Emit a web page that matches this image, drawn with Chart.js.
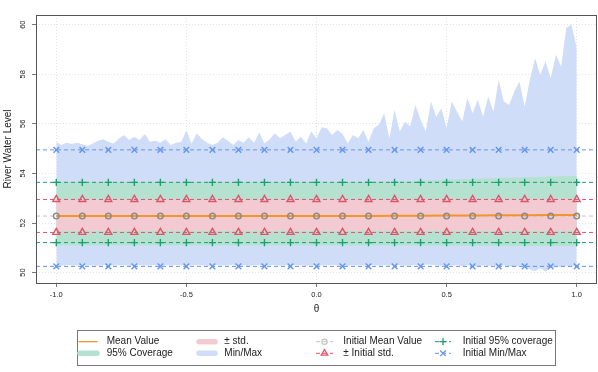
<!DOCTYPE html>
<html>
<head>
<meta charset="utf-8">
<script src="https://cdn.jsdelivr.net/npm/chart.js@4"></script>
<style>
  body { margin: 0; background: #fff; }
  #wrap { width: 598px; height: 372px; }
</style>
</head>
<body>
<div id="wrap"><canvas id="chart" width="598" height="372"></canvas></div>
<script>
// theta positions of the marked points
const thetaMarks = [-1.0, -0.9, -0.8, -0.7, -0.6, -0.5, -0.4, -0.3, -0.2, -0.1, 0.0,
  0.1, 0.2, 0.3, 0.4, 0.5, 0.6, 0.7, 0.8, 0.9, 1.0];
// fine sampling grid for the min/max envelope (step 0.02)
const thetaFine = Array.from({ length: 101 }, (_, i) => -1 + i * 0.02);

const meanValue = [52.28, 52.28, 52.28, 52.28, 52.28, 52.28, 52.28, 52.28, 52.28, 52.28, 52.28,
  52.28, 52.28, 52.29, 52.29, 52.30, 52.30, 52.31, 52.31, 52.32, 52.32];
const stdLower = [51.68, 51.68, 51.68, 51.68, 51.68, 51.68, 51.68, 51.68, 51.68, 51.68, 51.68,
  51.68, 51.68, 51.68, 51.68, 51.68, 51.68, 51.68, 51.68, 51.68, 51.68];
const stdUpper = [52.95, 52.95, 52.95, 52.95, 52.95, 52.95, 52.95, 52.95, 52.95, 52.95, 52.95,
  52.95, 52.95, 52.95, 52.96, 52.96, 52.96, 52.97, 52.97, 52.97, 52.98];
const covLower = [51.10, 51.10, 51.10, 51.10, 51.10, 51.10, 51.10, 51.10, 51.10, 51.10, 51.10,
  51.10, 51.10, 51.10, 51.09, 51.09, 51.08, 51.08, 51.07, 51.07, 51.07];
const covUpper = [53.66, 53.66, 53.66, 53.66, 53.66, 53.66, 53.66, 53.66, 53.66, 53.66, 53.66,
  53.66, 53.67, 53.67, 53.70, 53.74, 53.78, 53.82, 53.85, 53.88, 53.90];
const maxEnvelope = [
  55.27, 55.15, 55.24, 55.19, 55.24, 55.18, 55.11, 55.21, 55.32, 55.38,
  55.28, 55.21, 55.40, 55.55, 55.35, 55.48, 55.35, 55.59, 55.28, 55.32,
  55.24, 55.38, 55.15, 55.24, 55.27, 55.73, 55.21, 55.62, 55.38, 55.24,
  55.15, 55.24, 55.46, 55.32, 55.15, 55.35, 55.24, 55.46, 55.24, 55.65,
  55.21, 55.38, 55.62, 55.42, 55.55, 55.69, 55.28, 55.48, 55.21, 55.69,
  55.42, 55.86, 55.82, 55.55, 55.75, 55.60, 55.21, 55.55, 55.42, 55.75,
  55.28, 55.82, 55.96, 56.43, 55.42, 56.56, 55.69, 56.09, 55.89, 56.76,
  56.16, 55.69, 56.90, 56.29, 56.63, 55.82, 56.90, 56.49, 56.09, 57.04,
  56.43, 56.97, 56.29, 57.10, 56.49, 57.78, 56.90, 56.76, 57.30, 57.70,
  56.69, 57.78, 58.65, 57.98, 58.52, 57.84, 58.79, 58.31, 59.87, 60.00,
  59.06];
const minEnvelope = [
  50.30, 50.28, 50.31, 50.29, 50.30, 50.32, 50.29, 50.30, 50.28, 50.31,
  50.30, 50.29, 50.31, 50.30, 50.28, 50.30, 50.32, 50.29, 50.30, 50.31,
  50.29, 50.30, 50.28, 50.31, 50.30, 50.29, 50.30, 50.32, 50.30, 50.28,
  50.30, 50.31, 50.29, 50.30, 50.32, 50.29, 50.30, 50.28, 50.31, 50.30,
  50.29, 50.30, 50.31, 50.28, 50.30, 50.29, 50.31, 50.30, 50.28, 50.30,
  50.31, 50.29, 50.30, 50.32, 50.29, 50.30, 50.28, 50.31, 50.30, 50.29,
  50.30, 50.31, 50.28, 50.30, 50.29, 50.31, 50.30, 50.28, 50.30, 50.31,
  50.29, 50.33, 50.32, 50.30, 50.28, 50.30, 50.29, 50.31, 50.26, 50.30,
  50.28, 50.25, 50.30, 50.27, 50.29, 50.24, 50.30, 50.26, 50.22, 50.28,
  50.25, 50.12, 50.05, 50.18, 50.03, 50.20, 50.26, 50.22, 50.28, 50.25,
  50.27];

const initialMean = 52.28;
const initialStd = [51.62, 52.95];
const initialCoverage = [51.21, 53.64];
const initialMinMax = [50.25, 54.95];

const xTicks = [-1.0, -0.5, 0.0, 0.5, 1.0];
const yTicks = [50, 52, 54, 56, 58, 60];
const xRange = [-1.078, 1.078];
const yRange = [49.58, 60.39];

const legendLabels = [
  ["Mean Value", "95% Coverage"],
  ["\u00b1 std.", "Min/Max"],
  ["Initial Mean Value", "\u00b1 Initial std."],
  ["Initial 95% coverage", "Initial Min/Max"]
];

const ORANGE = "#F0962A";
const GREY = "#8a8a8a";
const RED = "#DF536B";
const GREEN = "#1E9E6E";
const BLUE = "#6495ED";
const BAND_BLUE = "#CFDDF8";
const BAND_GREEN = "#B5E2D0";
const BAND_PINK = "#F4CAD2";
const FONT = "'Liberation Sans', Arial, sans-serif";

function pts(xs, ys) {
  return xs.map((x, i) => ({ x: x, y: ys[i] }));
}
function hline(v) {
  return [{ x: xRange[0], y: v }, { x: xRange[1], y: v }];
}
function marks(v) {
  return thetaMarks.map(x => ({ x: x, y: v }));
}
function band(data, color, order, fill) {
  return {
    data: data, borderColor: "rgba(0,0,0,0)", borderWidth: 1, pointRadius: 0,
    backgroundColor: color, fill: fill, order: order
  };
}
function dashed(v, color, order) {
  return {
    data: hline(v), borderColor: color, borderWidth: 1, borderDash: [4, 3],
    pointRadius: 0, fill: false, order: order
  };
}
function markerSet(data, style, color, radius, order) {
  return {
    data: data, showLine: false, pointStyle: style, pointRadius: radius,
    pointBorderColor: color, pointBackgroundColor: "rgba(0,0,0,0)",
    pointBorderWidth: 1.4, order: order
  };
}

const datasets = [
  band(pts(thetaFine, minEnvelope), BAND_BLUE, 30, false),
  band(pts(thetaFine, maxEnvelope), BAND_BLUE, 29, "-1"),
  band(pts(thetaMarks, covLower), BAND_GREEN, 28, false),
  band(pts(thetaMarks, covUpper), BAND_GREEN, 27, "-1"),
  band(pts(thetaMarks, stdLower), BAND_PINK, 26, false),
  band(pts(thetaMarks, stdUpper), BAND_PINK, 25, "-1"),
  dashed(initialMinMax[0], BLUE, 20),
  dashed(initialMinMax[1], BLUE, 20),
  dashed(initialCoverage[0], GREEN, 20),
  dashed(initialCoverage[1], GREEN, 20),
  dashed(initialStd[0], RED, 20),
  dashed(initialStd[1], RED, 20),
  dashed(initialMean, "#c4c4c4", 20),
  {
    data: pts(thetaMarks, meanValue), borderColor: ORANGE, borderWidth: 2,
    pointRadius: 0, fill: false, order: 10
  },
  markerSet(marks(initialMean), "circle", GREY, 2.8, 5),
  markerSet(marks(initialStd[0]).concat(marks(initialStd[1])), "triangle", RED, 4, 5),
  markerSet(marks(initialCoverage[0]).concat(marks(initialCoverage[1])), "cross", GREEN, 3.6, 5),
  markerSet(marks(initialMinMax[0]).concat(marks(initialMinMax[1])), "crossRot", BLUE, 4, 5)
];

function drawMarker(ctx, style, x, y, r, color) {
  ctx.save();
  ctx.strokeStyle = color;
  ctx.lineWidth = 1.3;
  ctx.setLineDash([]);
  ctx.beginPath();
  if (style === "circle") {
    ctx.arc(x, y, r, 0, Math.PI * 2);
  } else if (style === "triangle") {
    ctx.moveTo(x, y - r);
    ctx.lineTo(x + r * 0.866, y + r * 0.5);
    ctx.lineTo(x - r * 0.866, y + r * 0.5);
    ctx.closePath();
  } else if (style === "cross") {
    ctx.moveTo(x - r, y); ctx.lineTo(x + r, y);
    ctx.moveTo(x, y - r); ctx.lineTo(x, y + r);
  } else {
    const d = r * 0.707;
    ctx.moveTo(x - d, y - d); ctx.lineTo(x + d, y + d);
    ctx.moveTo(x - d, y + d); ctx.lineTo(x + d, y - d);
  }
  ctx.stroke();
  ctx.restore();
}

const decorations = {
  id: "decorations",
  afterDatasetsDraw(chart) {
    const ctx = chart.ctx;
    const a = chart.chartArea;
    ctx.save();
    ctx.strokeStyle = "#555";
    ctx.lineWidth = 1;
    ctx.strokeRect(a.left + 0.5, a.top + 0.5, a.right - a.left - 1, a.bottom - a.top);
    ctx.restore();
  },
  afterDraw(chart) {
    const ctx = chart.ctx;
    const a = chart.chartArea;
    const xs = chart.scales.x;
    const ys = chart.scales.y;
    ctx.save();
    ctx.fillStyle = "#222";
    ctx.font = "7.5px " + FONT;
    ctx.textAlign = "center";
    ctx.textBaseline = "middle";
    // x tick labels
    xTicks.forEach(v => ctx.fillText(v.toFixed(1), xs.getPixelForValue(v), 294.5));
    // y tick labels, rotated like base R
    yTicks.forEach(v => {
      ctx.save();
      ctx.translate(23, ys.getPixelForValue(v));
      ctx.rotate(-Math.PI / 2);
      ctx.fillText(String(v), 0, 0);
      ctx.restore();
    });
    // axis titles
    ctx.font = "10px " + FONT;
    ctx.save();
    ctx.translate(8, (a.top + a.bottom) / 2);
    ctx.rotate(-Math.PI / 2);
    ctx.fillText("River Water Level", 0, 0);
    ctx.restore();
    ctx.fillText("\u03b8", (a.left + a.right) / 2, 309);

    // legend
    ctx.strokeStyle = "#777";
    ctx.lineWidth = 1;
    ctx.strokeRect(77.5, 330.5, 478, 35);
    const rows = [341.7, 353.3];
    const textX = [106.7, 224.3, 343.3, 462.7];
    ctx.textAlign = "left";
    ctx.fillStyle = "#222";
    legendLabels.forEach((col, c) => {
      col.forEach((label, r) => ctx.fillText(label, textX[c], rows[r]));
    });
    // column 1: line + band
    ctx.strokeStyle = ORANGE; ctx.lineWidth = 1.3;
    ctx.beginPath(); ctx.moveTo(78.5, rows[0]); ctx.lineTo(97.5, rows[0]); ctx.stroke();
    ctx.lineCap = "round"; ctx.lineWidth = 5.5;
    [[BAND_GREEN, 80, 97, rows[1]], [BAND_PINK, 199, 215, rows[0]], [BAND_BLUE, 199, 215, rows[1]]]
      .forEach(b => {
        ctx.strokeStyle = b[0];
        ctx.beginPath(); ctx.moveTo(b[1], b[3]); ctx.lineTo(b[2], b[3]); ctx.stroke();
      });
    ctx.lineCap = "butt";
    // initial items: dashed line with marker
    const items = [
      [316, 333, rows[0], "circle", "#c4c4c4", 2.6],
      [316, 333, rows[1], "triangle", RED, 3.8],
      [435, 451, rows[0], "cross", GREEN, 3.6],
      [435, 451, rows[1], "crossRot", BLUE, 4]
    ];
    items.forEach(it => {
      ctx.strokeStyle = it[4]; ctx.lineWidth = 1; ctx.setLineDash([4, 3]);
      ctx.beginPath(); ctx.moveTo(it[0], it[2]); ctx.lineTo(it[1], it[2]); ctx.stroke();
      ctx.setLineDash([]);
      drawMarker(ctx, it[3], (it[0] + it[1]) / 2, it[2], it[5], it[4]);
    });
    ctx.restore();
  }
};

new Chart(document.getElementById("chart"), {
  type: "line",
  data: { datasets: datasets },
  plugins: [decorations],
  options: {
    responsive: false,
    animation: false,
    events: [],
    layout: { autoPadding: false, padding: { top: 15, right: 1, left: 0, bottom: 0 } },
    plugins: { legend: { display: false }, tooltip: { enabled: false } },
    scales: {
      x: {
        type: "linear",
        min: xRange[0],
        max: xRange[1],
        afterBuildTicks: s => { s.ticks = xTicks.map(v => ({ value: v })); },
        afterFit: s => { s.height = 89; },
        ticks: { display: false },
        grid: { color: "#dcdcdc", tickColor: "#555", tickLength: 4, lineWidth: 0.8 },
        border: { display: false, dash: [1, 2] }
      },
      y: {
        type: "linear",
        min: yRange[0],
        max: yRange[1],
        afterBuildTicks: s => { s.ticks = yTicks.map(v => ({ value: v })); },
        afterFit: s => { s.width = 36; },
        ticks: { display: false },
        grid: { color: "#dcdcdc", tickColor: "#555", tickLength: 4, lineWidth: 0.8 },
        border: { display: false, dash: [1, 2] }
      }
    }
  }
});
</script>
</body>
</html>
